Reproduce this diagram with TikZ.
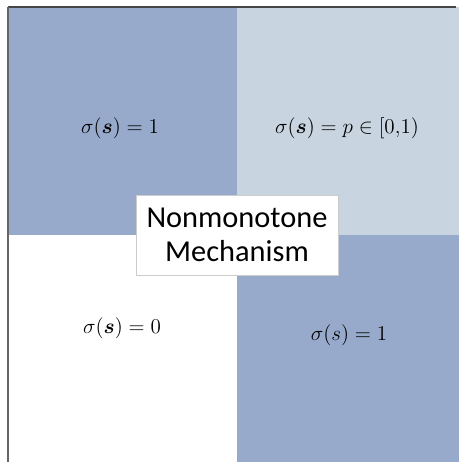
\documentclass[tikz,border=0pt]{standalone}
\usepackage{amsmath}
\usepackage{amssymb}
\usepackage{fontspec}
\newfontfamily\calfont{Carlito}
\usepackage{tikz}
\usepackage{xcolor}
\definecolor{mechblue}{RGB}{151,170,203}
\definecolor{mechpale}{RGB}{200,212,223}
\definecolor{frameline}{RGB}{70,70,70}

\begin{document}
\begin{tikzpicture}[
    x=0.02cm, y=-0.02cm,
    region/.style={font=\fontsize{11.5}{14}\selectfont, inner sep=0pt},
    title/.style={rectangle, draw=gray!40, fill=white, line width=0.4pt,
        minimum width=4.04cm, minimum height=1.6cm, align=center,
        font=\calfont\fontsize{17.3}{19.5}\selectfont, inner sep=0pt}
]
    \useasboundingbox (0,0) rectangle (459,462);
    % quadrants
    \fill[mechblue] (8,7) rectangle (237,235);
    \fill[mechpale] (237,7) rectangle (459,235);
    \fill[white] (8,235) rectangle (237,462);
    \fill[mechblue] (237,235) rectangle (459,462);
    % frame
    \draw[frameline, line width=1.2pt] (8,7) -- (456,7);
    \draw[gray!80!black, line width=1pt] (8,7) -- (8,462);

    \node[region] (tl) at (120,128) {$\sigma(\boldsymbol{s}) = 1$};
    \node[region] (tr) at (347,128) {$\sigma(\boldsymbol{s}) = p \in [0{,}1)$};
    \node[region] (bl) at (122,328) {$\sigma(\boldsymbol{s}) = 0$};
    \node[region] (br) at (349,335) {$\sigma(s) = 1$};

    \node[title] (mech) at (237,235) {Nonmonotone\\Mechanism};
\end{tikzpicture}
\end{document}
